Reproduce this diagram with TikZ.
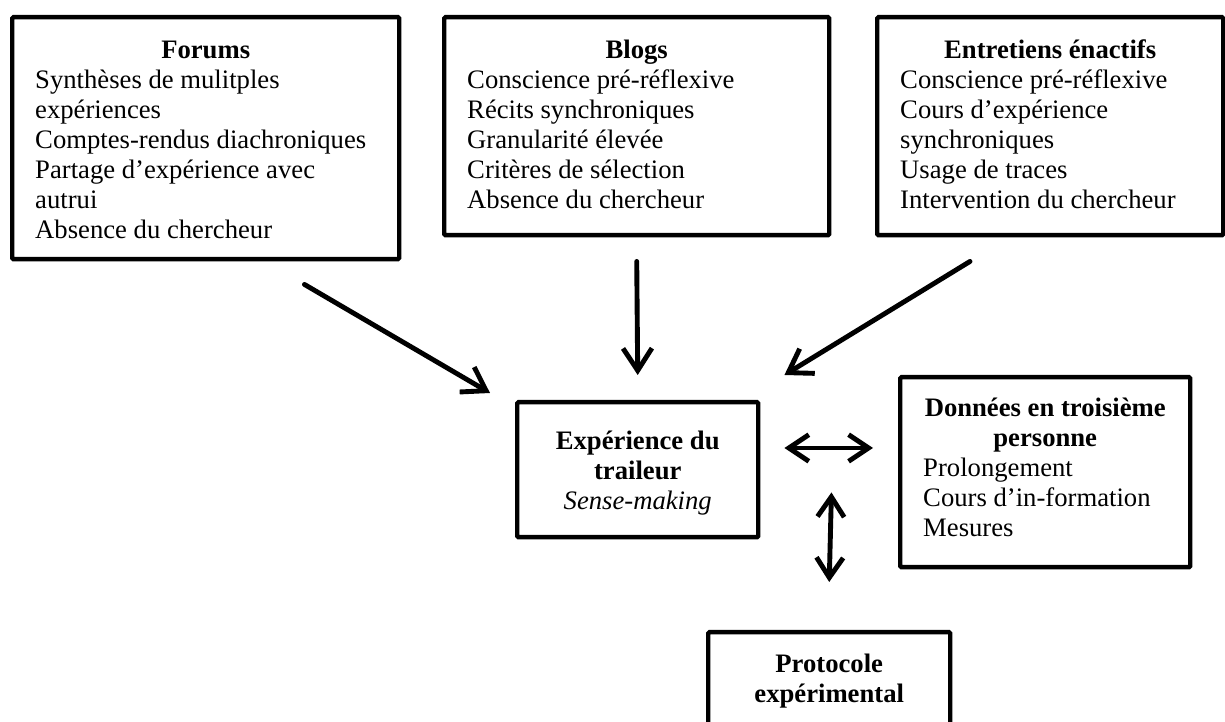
\documentclass[tikz,border=0pt]{standalone}
\usepackage{fontspec}
\setmainfont{Liberation Serif}
\usetikzlibrary{arrows.meta,calc}
\newlength{\px}
\setlength{\px}{0.45pt}

\begin{document}
\begin{tikzpicture}[x=0.45pt,y=-0.45pt,
    srcbox/.style={draw, line width=2pt, rounded corners=0.6pt,
      inner xsep=23\px, inner ysep=0pt, anchor=north west,
      font=\fontsize{12}{13.5}\selectfont},
    flow/.style={line width=2.2pt, line cap=round,
      -{Straight Barb[length=10pt,width=13pt]}},
    dflow/.style={line width=2.2pt, line cap=round,
      {Straight Barb[length=9pt,width=12pt]}-{Straight Barb[length=9pt,width=12pt]}}]
    \clip (0,0) rectangle (1225,722);

    % sources
    \node[srcbox] (forums) at (10,15) {\parbox[t][242\px][t]{341\px}{%
      {\centering\rule{0pt}{41\px}\bfseries Forums\par}
      \raggedright
      Synthèses de mulitples\\
      expériences\\
      Comptes-rendus diachroniques\\
      Partage d’expérience avec\\
      autrui\\
      Absence du chercheur}};
    \node[srcbox] (blogs) at (442,15) {\parbox[t][218\px][t]{339\px}{%
      {\centering\rule{0pt}{41\px}\bfseries Blogs\par}
      \raggedright
      Conscience pré-réflexive\\
      Récits synchroniques\\
      Granularité élevée\\
      Critères de sélection\\
      Absence du chercheur}};
    \node[srcbox] (entretiens) at (875,15) {\parbox[t][218\px][t]{300\px}{%
      {\centering\rule{0pt}{41\px}\bfseries Entretiens énactifs\par}
      \raggedright
      Conscience pré-réflexive\\
      Cours d’expérience\\
      synchroniques\\
      Usage de traces\\
      Intervention du chercheur}};

    % centre
    \node[srcbox] (experience) at (515,400) {\parbox[t][135\px][t]{195\px}{%
      \centering\rule{0pt}{47\px}\textbf{Expérience du}\\
      \textbf{traileur}\\
      \textit{Sense-making}}};
    \node[srcbox] (donnees) at (898,375) {\parbox[t][190\px][t]{244\px}{%
      {\centering\rule{0pt}{39\px}\bfseries Données en troisième\\
      personne\par}
      \raggedright
      Prolongement\\
      Cours d’in-formation\\
      Mesures}};
    \node[srcbox] (protocole) at (706,630) {\parbox[t][120\px][t]{196\px}{%
      \centering\rule{0pt}{40\px}\bfseries Protocole\\
      expérimental}};

    % arrows
    \draw[flow] ($(forums.south east)+(-97,23)$) -- ($(experience.north west)+(-25,-7)$);
    \draw[flow] ($(blogs.south)+(0,24)$) -- ($(experience.north)+(0,-25)$);
    \draw[flow] ($(entretiens.south west)+(95,24)$) -- ($(experience.north east)+(24,-25)$);
    \draw[dflow] ($(experience.north east)+(24,48)$) -- ($(donnees.north west)+(-25,73)$);
    \draw[dflow] ($(experience.south east)+(71,-47)$) -- ($(protocole.north)+(0,-48)$);
\end{tikzpicture}
\end{document}
